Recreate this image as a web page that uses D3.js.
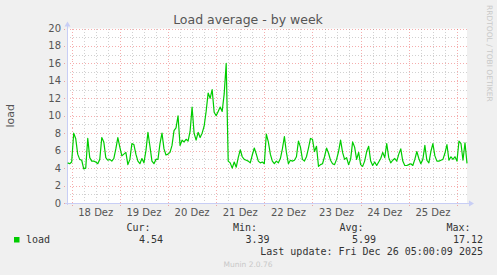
<!DOCTYPE html>
<html>
<head>
<meta charset="utf-8">
<script src="https://cdn.jsdelivr.net/npm/d3@7"></script>
<style>
  html, body { margin: 0; padding: 0; background: #f0f0f0; }
  svg { display: block; }
</style>
</head>
<body>
<svg id="chart" width="497" height="275"></svg>
<script>
// hourly load values, first one at Dec 17 22:00 (UTC), last one at Dec 26 05:00
let loadValues = [
  4.6, 4.5, 4.7, 8.0, 7.4, 5.6, 5.0, 4.9, 3.9, 4.0,
  7.4, 5.2, 4.8, 4.8, 4.7, 4.5, 5.0, 7.5, 7.0, 5.2,
  4.9, 5.0, 4.8, 5.1, 6.2, 7.5, 6.4, 5.4, 5.6, 5.8,
  4.4, 5.0, 6.8, 6.7, 5.6, 4.8, 4.5, 5.1, 4.6, 6.0,
  8.1, 6.5, 4.8, 4.5, 5.0, 5.0, 6.8, 8.0, 6.2, 5.5,
  5.6, 5.8, 6.6, 8.3, 8.6, 10.0, 6.6, 7.2, 7.0, 7.3,
  7.1, 8.2, 11.0, 8.0, 7.2, 8.1, 7.5, 8.0, 8.8, 10.5,
  12.6, 12.0, 13.0, 10.4, 10.0, 10.5, 11.0, 10.5, 12.5, 16.0,
  4.8, 4.6, 4.0, 4.7, 4.1, 5.2, 6.1, 5.3, 5.0, 4.9,
  4.8, 4.6, 5.5, 6.3, 5.6, 4.8, 4.6, 4.7, 4.5, 7.9,
  7.0, 5.6, 4.8, 4.5, 4.8, 4.6, 5.1, 6.2, 7.6, 5.8,
  4.5, 4.9, 4.8, 4.9, 5.3, 7.1, 6.4, 5.0, 4.8, 5.3,
  6.3, 7.4, 7.3, 5.9, 6.5, 4.2, 4.4, 4.5, 5.3, 6.3,
  5.7, 4.9, 4.5, 4.4, 5.0, 5.9, 7.2, 5.8, 5.0, 5.2,
  4.4, 5.0, 7.0, 6.4, 5.0, 5.8, 4.4, 4.2, 4.8, 5.9,
  6.5, 4.8, 4.3, 4.7, 4.3, 4.7, 5.1, 5.8, 5.2, 6.8,
  5.2, 4.6, 4.9, 5.1, 4.8, 5.6, 6.2, 4.8, 4.3, 4.3,
  4.4, 4.5, 4.3, 5.0, 5.9, 5.1, 4.5, 5.0, 6.6, 4.9,
  4.6, 5.9, 6.8, 5.4, 4.8, 4.8, 4.9, 5.0, 5.7, 6.7,
  4.9, 5.3, 5.0, 5.3, 4.8, 7.1, 6.8, 4.9, 6.9, 4.54
];
let firstSample = Date.UTC(2025, 11, 17, 22, 0);

let yTicks = [0, 2, 4, 6, 8, 10, 12, 14, 16, 18, 20];
let legendHeads = ['Cur:', 'Min:', 'Avg:', 'Max:'];
let legendValues = ['4.54', '3.39', '5.99', '17.12'];
let lastUpdate = 'Last update: Fri Dec 26 05:00:09 2025';

let data = loadValues.map((v, i) => ({ t: new Date(firstSample + i * 3600e3), v: v }));

let plotLeft = 67, plotRight = 467, plotTop = 28.5, plotBottom = 203;
let svg = d3.select('#chart');

let x = d3.scaleUtc()
  .domain([new Date(Date.UTC(2025, 11, 17, 21, 40)), new Date(Date.UTC(2025, 11, 26, 5, 0))])
  .range([plotLeft, plotRight]);
let y = d3.scaleLinear().domain([0, 20]).range([plotBottom, plotTop]);

svg.append('rect')
  .attr('x', plotLeft).attr('y', plotTop)
  .attr('width', plotRight - plotLeft).attr('height', plotBottom - plotTop)
  .attr('fill', '#ffffff');

let grid = svg.append('g').attr('shape-rendering', 'crispEdges');
let minorGray = 'rgba(140,140,140,0.4)';
let majorRed = 'rgba(230,60,60,0.42)';

// horizontal grid: odd values grey, labelled values red
d3.range(1, 20, 2).forEach((v) => {
  grid.append('line')
    .attr('x1', plotLeft).attr('x2', plotRight + 1)
    .attr('y1', Math.round(y(v)) + 0.5).attr('y2', Math.round(y(v)) + 0.5)
    .attr('stroke', minorGray).attr('stroke-dasharray', '1,2');
});
yTicks.forEach((v) => {
  grid.append('line')
    .attr('x1', plotLeft - 3).attr('x2', plotRight + 1)
    .attr('y1', Math.round(y(v)) + 0.5).attr('y2', Math.round(y(v)) + 0.5)
    .attr('stroke', majorRed).attr('stroke-dasharray', '1,2');
});

// vertical grid: every 6 hours grey, midnight red
let hours6 = d3.utcHour.every(6).range(x.domain()[0], x.domain()[1]);
hours6.forEach((d) => {
  let midnight = d.getUTCHours() === 0;
  grid.append('line')
    .attr('x1', Math.round(x(d)) + 0.5).attr('x2', Math.round(x(d)) + 0.5)
    .attr('y1', plotTop).attr('y2', plotBottom + (midnight ? 3 : 2))
    .attr('stroke', midnight ? majorRed : minorGray)
    .attr('stroke-dasharray', '1,2');
});

// axes
let axisColor = '#c8cef5';
svg.append('line')
  .attr('x1', plotLeft + 0.5).attr('x2', plotLeft + 0.5)
  .attr('y1', plotBottom + 2).attr('y2', plotTop - 3)
  .attr('stroke', axisColor);
svg.append('path')
  .attr('d', `M${plotLeft - 2.5},${plotTop - 2} L${plotLeft + 3.5},${plotTop - 2} L${plotLeft + 0.5},${plotTop - 7} Z`)
  .attr('fill', axisColor);
svg.append('line')
  .attr('x1', plotLeft - 2).attr('x2', plotRight + 3)
  .attr('y1', plotBottom + 0.5).attr('y2', plotBottom + 0.5)
  .attr('stroke', axisColor);
svg.append('path')
  .attr('d', `M${plotRight + 2},${plotBottom - 2.5} L${plotRight + 2},${plotBottom + 3.5} L${plotRight + 7},${plotBottom + 0.5} Z`)
  .attr('fill', axisColor);

// y labels
svg.append('g')
  .selectAll('text')
  .data(yTicks)
  .join('text')
  .attr('x', 61)
  .attr('y', (d) => y(d) + 3.5)
  .attr('text-anchor', 'end')
  .attr('font-family', 'DejaVu Sans')
  .attr('font-size', 10)
  .attr('fill', '#555')
  .text((d) => d);

// x labels at noon
let noons = d3.utcDay.range(x.domain()[0], x.domain()[1])
  .map((d) => d3.utcHour.offset(d, 12))
  .filter((d) => d < x.domain()[1]);
svg.append('g')
  .selectAll('text')
  .data(noons)
  .join('text')
  .attr('x', (d) => x(d))
  .attr('y', 216)
  .attr('text-anchor', 'middle')
  .attr('font-family', 'DejaVu Sans')
  .attr('font-size', 10)
  .attr('fill', '#555')
  .text((d) => d3.utcFormat('%d')(d) + ' Dez');

// line
svg.append('clipPath').attr('id', 'clip')
  .append('rect').attr('x', plotLeft).attr('y', plotTop).attr('width', plotRight - plotLeft + 1).attr('height', plotBottom - plotTop);
svg.append('path')
  .datum(data)
  .attr('clip-path', 'url(#clip)')
  .attr('fill', 'none')
  .attr('stroke', '#00cc00')
  .attr('stroke-width', 1.2)
  .attr('stroke-linejoin', 'round')
  .attr('d', d3.line().x((d) => x(d.t)).y((d) => y(d.v)));

// titles
svg.append('text')
  .attr('x', 248).attr('y', 24)
  .attr('text-anchor', 'middle')
  .attr('font-family', 'DejaVu Sans')
  .attr('font-size', 12.5)
  .attr('fill', '#555')
  .text('Load average - by week');

svg.append('text')
  .attr('transform', `translate(14,${(plotTop + plotBottom) / 2}) rotate(-90)`)
  .attr('text-anchor', 'middle')
  .attr('font-family', 'DejaVu Sans')
  .attr('font-size', 11)
  .attr('fill', '#555')
  .text('load');

svg.append('text')
  .attr('transform', 'translate(487,5) rotate(90)')
  .attr('font-family', 'DejaVu Sans')
  .attr('font-size', 7.5)
  .attr('fill', '#c8c8c8')
  .text('RRDTOOL / TOBI OETIKER');

// legend
let mono = 'DejaVu Sans Mono';
let colEnds = [163, 269.5, 376, 483];
svg.append('rect')
  .attr('x', 14).attr('y', 237).attr('width', 5.5).attr('height', 5.5)
  .attr('fill', '#00cc00');
svg.append('text')
  .attr('x', 26).attr('y', 243)
  .attr('font-family', mono).attr('font-size', 10).attr('fill', '#333')
  .text('load');
svg.append('g')
  .selectAll('text')
  .data(legendHeads)
  .join('text')
  .attr('x', (d, i) => colEnds[i] - 12.5)
  .attr('y', 231)
  .attr('text-anchor', 'end')
  .attr('font-family', mono).attr('font-size', 10).attr('fill', '#333')
  .text((d) => d);
svg.append('g')
  .selectAll('text')
  .data(legendValues)
  .join('text')
  .attr('x', (d, i) => colEnds[i])
  .attr('y', 243)
  .attr('text-anchor', 'end')
  .attr('font-family', mono).attr('font-size', 10).attr('fill', '#333')
  .text((d) => d);
svg.append('text')
  .attr('x', 483).attr('y', 255)
  .attr('text-anchor', 'end')
  .attr('font-family', mono).attr('font-size', 10).attr('fill', '#333')
  .text(lastUpdate);
svg.append('text')
  .attr('x', 248).attr('y', 267)
  .attr('text-anchor', 'middle')
  .attr('font-family', 'DejaVu Sans')
  .attr('font-size', 7.5)
  .attr('fill', '#c8c8c8')
  .text('Munin 2.0.76');
</script>
</body>
</html>
